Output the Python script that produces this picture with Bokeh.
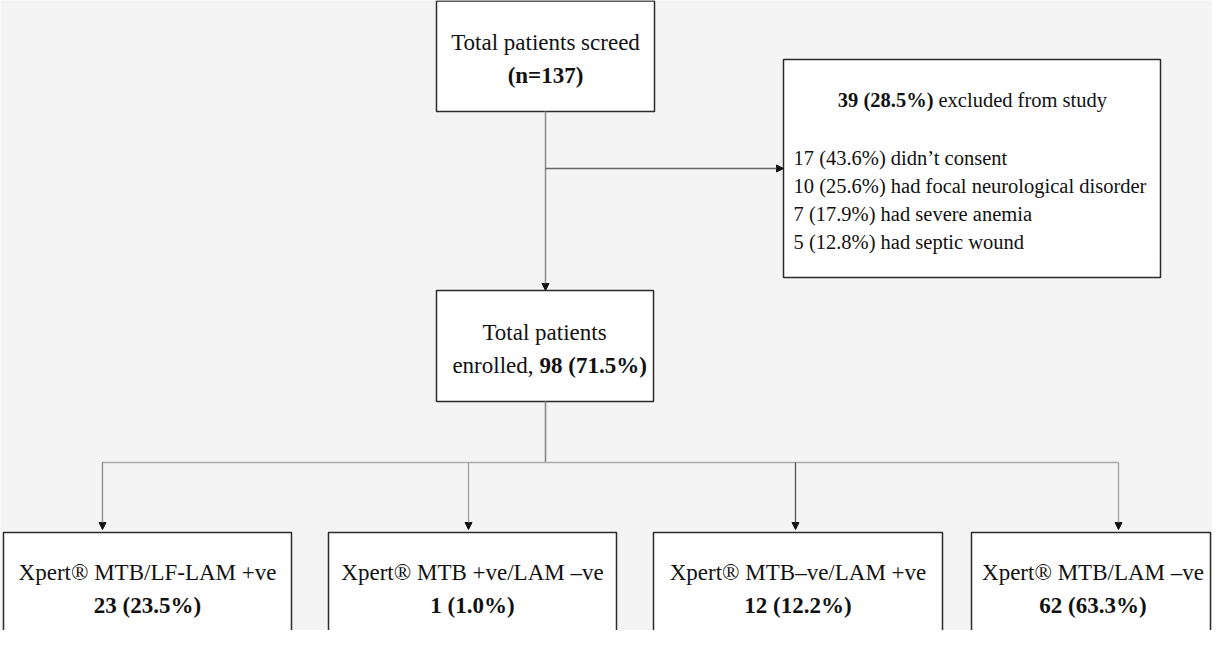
from bokeh.plotting import figure
from bokeh.models import Range1d, Arrow, NormalHead
from bokeh.core.properties import value
from bokeh.embed import file_html
from bokeh.resources import INLINE

# ---------------- data ----------------
screened_label = "Total patients screed"
screened_n = 137

excluded_n = 39
excluded_pct = 28.5
excluded_label = "excluded from study"
exclusion_counts = [17, 10, 7, 5]
exclusion_pcts = [43.6, 25.6, 17.9, 12.8]
exclusion_reasons = ["didn\u2019t consent", "had focal neurological disorder",
                     "had severe anemia", "had septic wound"]

enrolled_lines = ["Total patients", "enrolled,"]
enrolled_n = 98
enrolled_pct = 71.5

result_labels = ["Xpert\u00ae MTB/LF-LAM +ve", "Xpert\u00ae MTB +ve/LAM \u2013ve",
                 "Xpert\u00ae MTB\u2013ve/LAM +ve", "Xpert\u00ae MTB/LAM \u2013ve"]
result_counts = [23, 1, 12, 62]
result_pcts = [23.5, 1.0, 12.2, 63.3]

# ---------------- layout ----------------
W, H = 1212, 630
FONT = value("Liberation Serif")
BIG = "23px"
SMALL = "20.5px"
INK = "#111111"
BOX_LINE = "#2b2b2b"
CONN = "#8a8a8a"

p = figure(width=W, height=H, x_range=Range1d(8, 8 + W), y_range=Range1d(8 + H, 8),
           output_backend="svg", toolbar_location=None, min_border=0,
           x_axis_location=None, y_axis_location=None)
p.grid.visible = False
p.outline_line_color = None
p.background_fill_color = "#f4f4f4"
p.border_fill_color = "#f4f4f4"

# boxes: left, right, top, bottom
top_box = (444, 662, 8.5, 119)
excl_box = (791, 1168, 67, 285)
mid_box = (444, 661, 298, 409)
res_left = [11, 336, 661, 979]
res_right = [299, 624, 950, 1218]
res_top = 540
res_bottom = 700

boxes = [top_box, excl_box, mid_box] + [(l, r, res_top, res_bottom) for l, r in zip(res_left, res_right)]
p.quad(left=[b[0] for b in boxes], right=[b[1] for b in boxes],
       top=[b[2] for b in boxes], bottom=[b[3] for b in boxes],
       fill_color="white", line_color=BOX_LINE, line_width=1.5)

# connectors
stem_x = 553
branch_y = 470
arrow_xs = [110, 476, 803, 1126]

p.segment(x0=[stem_x, arrow_xs[0]], y0=[mid_box[3], branch_y],
          x1=[stem_x, arrow_xs[-1]], y1=[branch_y, branch_y],
          line_color=[CONN, "#aaaaaa"], line_width=[1.6, 1.3])

def arrow(x0, y0, x1, y1, color=CONN, lw=1.5):
    p.add_layout(Arrow(end=NormalHead(size=7, fill_color=INK, line_color=INK, line_width=1),
                       x_start=x0, y_start=y0, x_end=x1, y_end=y1,
                       line_color=color, line_width=lw))

arrow(stem_x, top_box[3], stem_x, mid_box[2])
arrow(stem_x, 176, excl_box[0], 176, color="#666666", lw=1.3)
for ax, c in zip(arrow_xs, ["#8a8a8a", "#a0a0a0", "#555555", "#a0a0a0"]):
    arrow(ax, branch_y, ax, res_top - 3, color=c, lw=1.3)

common = dict(text_font=FONT, text_color=INK, text_baseline="middle")

# top box
p.text(x=[553], y=[50], text=[screened_label], text_align="center", text_font_size=BIG, **common)
p.text(x=[553], y=[83], text=[f"(n={screened_n})"], text_align="center", text_font_size=BIG,
       text_font_style="bold", **common)

# exclusion box
p.text(x=[941], y=[107], text=[f"{excluded_n} ({excluded_pct:.1f}%)"], text_align="right",
       text_font_size=SMALL, text_font_style="bold", **common)
p.text(x=[946], y=[107], text=[excluded_label], text_align="left", text_font_size=SMALL, **common)
reason_ys = [165, 193, 221, 249]
p.text(x=[801] * len(exclusion_reasons), y=reason_ys,
       text=[f"{c} ({pc:.1f}%) {r}" for c, pc, r in zip(exclusion_counts, exclusion_pcts, exclusion_reasons)],
       text_align="left", text_font_size=SMALL, **common)

# enrolled box
p.text(x=[552], y=[340], text=[enrolled_lines[0]], text_align="center", text_font_size=BIG, **common)
p.text(x=[541], y=[373], text=[enrolled_lines[1]], text_align="right", text_font_size=BIG, **common)
p.text(x=[547], y=[373], text=[f"{enrolled_n} ({enrolled_pct:.1f}%)"], text_align="left",
       text_font_size=BIG, text_font_style="bold", **common)

# result boxes
centers = [(l + r) / 2 for l, r in zip(res_left, [299, 624, 950, 1222])]
p.text(x=centers, y=[580] * 4, text=result_labels, text_align="center", text_font_size=BIG, **common)
p.text(x=centers, y=[613] * 4, text=[f"{c} ({pc:.1f}%)" for c, pc in zip(result_counts, result_pcts)],
       text_align="center", text_font_size=BIG, text_font_style="bold", **common)

open("out.html", "w").write(file_html(p, INLINE))
